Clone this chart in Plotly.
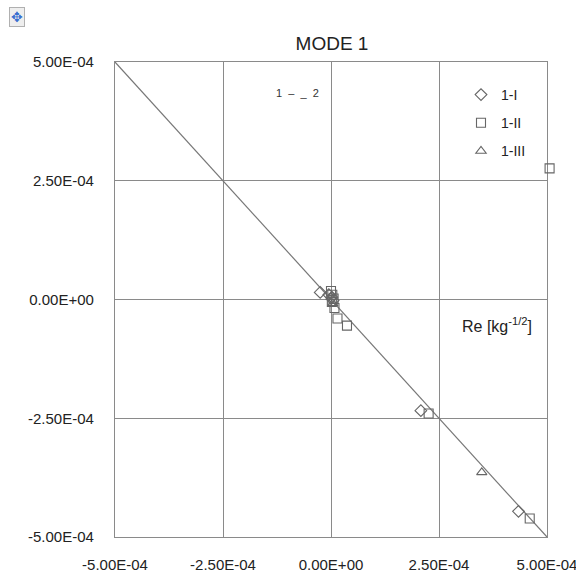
import plotly.graph_objects as go

# ---- data ----
tick_vals = [-5e-4, -2.5e-4, 0.0, 2.5e-4, 5e-4]
tick_text = ["-5.00E-04", "-2.50E-04", "0.00E+00", "2.50E-04", "5.00E-04"]

ref_line_x = [-5e-4, 5e-4]
ref_line_y = [5e-4, -5e-4]

s1_x = [-0.25e-4, -0.05e-4, 0.02e-4, 0.05e-4, 2.08e-4, 4.34e-4]
s1_y = [0.15e-4, 0.10e-4, 0.05e-4, -0.02e-4, -2.34e-4, -4.46e-4]

s2_x = [0.0, 0.03e-4, 0.06e-4, 0.02e-4, 0.08e-4, 0.15e-4, 0.37e-4, 2.26e-4, 4.60e-4]
s2_y = [0.18e-4, 0.10e-4, 0.02e-4, -0.05e-4, -0.18e-4, -0.40e-4, -0.55e-4, -2.40e-4, -4.61e-4]

# point lying just outside the plotted x range
s2_out_x = [5.06e-4]
s2_out_y = [2.76e-4]

s3_x = [0.0, 0.04e-4, 3.49e-4]
s3_y = [0.05e-4, -0.08e-4, -3.64e-4]

names = ["1-I", "1-II", "1-III"]

# ---- layout geometry ----
L, R, T, B = 115, 10, 62, 40
W_tot = 576 - L - R
H_tot = 577 - T - B
main_w = 547 - L
d = main_w / W_tot
x_lo, x_hi = -5e-4, 5e-4
x2_hi = x_lo + (x_hi - x_lo) / d


def px(xpx):
    return (xpx - L) / W_tot


def py(ypx):
    return (577 - B - ypx) / H_tot


grey = "#8a8a8a"
mk = "#666666"
font_fam = "Liberation Sans, Arial, sans-serif"
txt = "#222222"

fig = go.Figure()
fig.add_trace(go.Scatter(x=ref_line_x, y=ref_line_y, mode="lines",
                         line=dict(color="#777777", width=1.2), showlegend=False,
                         hoverinfo="skip"))
fig.add_trace(go.Scatter(x=s1_x, y=s1_y, mode="markers", name=names[0], legendgroup="a",
                         marker=dict(symbol="diamond-open", size=9, color=mk, line=dict(width=1.1))))
fig.add_trace(go.Scatter(x=s2_x, y=s2_y, mode="markers", name=names[1], legendgroup="b",
                         marker=dict(symbol="square-open", size=9, color=mk, line=dict(width=1.1))))
fig.add_trace(go.Scatter(x=s2_out_x, y=s2_out_y, mode="markers", name=names[1], legendgroup="b",
                         showlegend=False, xaxis="x2", yaxis="y2",
                         marker=dict(symbol="square-open", size=9, color=mk, line=dict(width=1.1))))
fig.add_trace(go.Scatter(x=s3_x, y=s3_y, mode="markers", name=names[2], legendgroup="c",
                         marker=dict(symbol="triangle-up-open", size=9, color=mk, line=dict(width=1.1))))

axis_common = dict(
    range=[-5e-4, 5e-4], tickvals=tick_vals, ticktext=tick_text,
    showgrid=True, gridcolor=grey, gridwidth=1.2,
    zeroline=True, zerolinecolor=grey, zerolinewidth=1.2,
    showline=True, linecolor=grey, linewidth=1.2, mirror=True,
    ticks="", tickfont=dict(family=font_fam, size=15, color=txt),
    fixedrange=True, automargin=False, ticklabeloverflow="allow",
)

fig.update_layout(
    width=576, height=577,
    margin=dict(l=L, r=R, t=T, b=B, autoexpand=False),
    paper_bgcolor="white", plot_bgcolor="rgba(0,0,0,0)",
    font=dict(family=font_fam, color=txt),
    title=dict(text="MODE 1", x=332 / 576, xanchor="center", xref="container",
               y=1 - 43 / 577, yanchor="middle", yref="container",
               font=dict(family=font_fam, size=19, color=txt)),
    xaxis=dict(**axis_common, domain=[0, d], anchor="y", ticklabelstandoff=14),
    yaxis=dict(**axis_common, anchor="x", ticklabelstandoff=17),
    xaxis2=dict(range=[x_lo, x2_hi], domain=[0, 1], anchor="y2", visible=False,
                fixedrange=True, automargin=False),
    yaxis2=dict(range=[-5e-4, 5e-4], domain=[0, 1], anchor="x2", visible=False,
                fixedrange=True, automargin=False),
    legend=dict(x=px(461), y=py(79), xanchor="left", yanchor="top",
                bgcolor="rgba(0,0,0,0)", font=dict(family=font_fam, size=14, color=txt),
                tracegroupgap=7, itemwidth=30),
    showlegend=True,
    annotations=[
        dict(text="Re [kg<sup>-1/2</sup>]", x=px(460), y=py(325), xanchor="left",
             xref="paper", yref="paper", showarrow=False,
             font=dict(family=font_fam, size=16, color=txt)),
        dict(text="1\u00a0\u00a0–\u00a0\u00a0_\u00a0\u00a02", x=px(297), y=py(93),
             xref="paper", yref="paper", showarrow=False, yanchor="middle",
             font=dict(family=font_fam, size=11, color="#333333")),
        dict(text="✥", x=px(9), y=py(7),
             xref="paper", yref="paper", showarrow=False,
             font=dict(family="DejaVu Sans", size=14, color="#3a6fd0"),
             bordercolor="#b0b0b0", borderwidth=1, bgcolor="#eeeeee", borderpad=1),
    ],
)

fig.write_html("out.html")
